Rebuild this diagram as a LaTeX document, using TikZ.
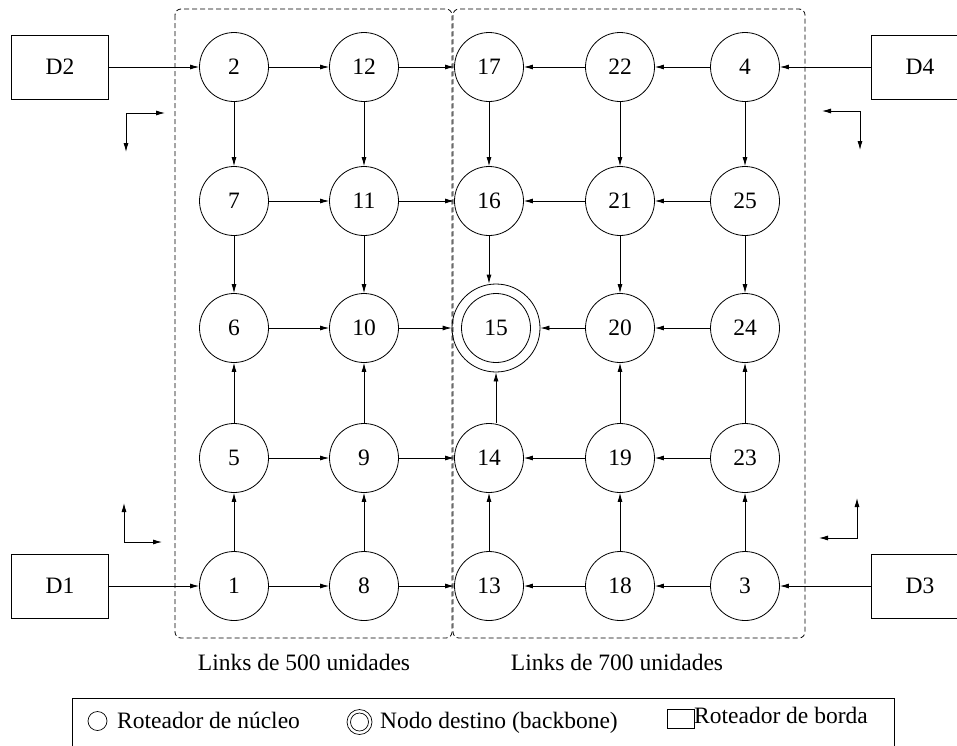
\documentclass[tikz,border=0pt]{standalone}
\usepackage{fontspec}
\setmainfont{Liberation Serif}
\usetikzlibrary{arrows.meta}
\begin{document}
\begin{tikzpicture}[x=1pt,y=-1pt,
  lbl/.style={font=\fontsize{23.5}{27}\selectfont},
  core/.style={circle,draw,line width=0.8pt,minimum size=69pt,inner sep=0pt,lbl},
  border/.style={rectangle,draw,line width=0.8pt,minimum width=97pt,minimum height=64pt,inner sep=0pt,lbl},
  link/.style={draw,line width=0.8pt,-{Latex[length=9pt,width=5pt]}},
  turn/.style={draw,line width=0.8pt,{Latex[length=9pt,width=5pt]}-{Latex[length=9pt,width=5pt]}},
  region/.style={draw,line width=0.8pt,dash pattern=on 5pt off 3pt,rounded corners=6pt},
  legtext/.style={font=\fontsize{23.5}{27}\selectfont,inner sep=0pt}]
\useasboundingbox (0,0) rectangle (957,745);

% link regions
\draw[region] (175,9) rectangle (452,638);
\draw[region] (453,9) rectangle (805,638);

% edge routers
\node[border] (D2) at (60,67) {D2};
\node[border] (D1) at (60,586) {D1};
\node[border] (D4) at (920,67) {D4};
\node[border] (D3) at (920,586) {D3};

% core routers, row by row
\node[core] (n2)  at (234,67)  {2};
\node[core] (n12) at (364,67)  {12};
\node[core] (n17) at (489,67)  {17};
\node[core] (n22) at (620,67)  {22};
\node[core] (n4)  at (745,67)  {4};

\node[core] (n7)  at (234,201) {7};
\node[core] (n11) at (364,201) {11};
\node[core] (n16) at (489,201) {16};
\node[core] (n21) at (620,201) {21};
\node[core] (n25) at (745,201) {25};

\node[core] (n6)  at (234,328) {6};
\node[core] (n10) at (364,328) {10};
\node[core,minimum size=88pt] (n15) at (496,328) {15};
\draw[line width=0.8pt] (n15.center) circle (34.5);
\node[core] (n20) at (620,328) {20};
\node[core] (n24) at (745,328) {24};

\node[core] (n5)  at (234,458) {5};
\node[core] (n9)  at (364,458) {9};
\node[core] (n14) at (489,458) {14};
\node[core] (n19) at (620,458) {19};
\node[core] (n23) at (745,458) {23};

\node[core] (n1)  at (234,586) {1};
\node[core] (n8)  at (364,586) {8};
\node[core] (n13) at (489,586) {13};
\node[core] (n18) at (620,586) {18};
\node[core] (n3)  at (745,586) {3};

% horizontal links
\path[link] (D2) -- (n2);
\path[link] (n2) -- (n12);
\path[link] (n12) -- (n17);
\path[link] (n22) -- (n17);
\path[link] (n4) -- (n22);
\path[link] (D4) -- (n4);

\path[link] (n7) -- (n11);
\path[link] (n11) -- (n16);
\path[link] (n21) -- (n16);
\path[link] (n25) -- (n21);

\path[link] (n6) -- (n10);
\path[link] (n10) -- (n15);
\path[link] (n20) -- (n15);
\path[link] (n24) -- (n20);

\path[link] (n5) -- (n9);
\path[link] (n9) -- (n14);
\path[link] (n19) -- (n14);
\path[link] (n23) -- (n19);

\path[link] (D1) -- (n1);
\path[link] (n1) -- (n8);
\path[link] (n8) -- (n13);
\path[link] (n18) -- (n13);
\path[link] (n3) -- (n18);
\path[link] (D3) -- (n3);

% vertical links
\path[link] (n2) -- (n7);
\path[link] (n12) -- (n11);
\path[link] (n17) -- (n16);
\path[link] (n22) -- (n21);
\path[link] (n4) -- (n25);

\path[link] (n7) -- (n6);
\path[link] (n11) -- (n10);
\path[link] (n16) -- (n16 |- n15.north);
\path[link] (n21) -- (n20);
\path[link] (n25) -- (n24);

\path[link] (n5) -- (n6);
\path[link] (n9) -- (n10);
\path[link] (n15 |- n14.north) -- (n15.south);
\path[link] (n19) -- (n20);
\path[link] (n23) -- (n24);

\path[link] (n1) -- (n5);
\path[link] (n8) -- (n9);
\path[link] (n13) -- (n14);
\path[link] (n18) -- (n19);
\path[link] (n3) -- (n23);

% direction indicators
\coordinate (tla) at (126,152); \coordinate (tlb) at (165,113);
\path[turn] (tla) |- (tlb);
\coordinate (tra) at (822,111); \coordinate (trb) at (860,150);
\path[turn] (tra) -| (trb);
\coordinate (bla) at (124,503); \coordinate (blb) at (162,542);
\path[turn] (bla) |- (blb);
\coordinate (bra) at (819,538); \coordinate (brb) at (857,498);
\path[turn] (bra) -| (brb);

% region captions
\node[lbl] (cap500) at (304,662) {Links de 500 unidades};
\node[lbl] (cap700) at (617,662) {Links de 700 unidades};

% legend
\draw[line width=0.8pt] (72,760) |- (894,698) -- (894,760);
\node[circle,draw,line width=0.7pt,minimum size=19pt,inner sep=0pt] (lgcore) at (97.5,721) {};
\node[legtext,anchor=base west] (lgcoretxt) at (117,728) {Roteador de núcleo};
\node[circle,draw,line width=0.7pt,minimum size=25pt,inner sep=0pt] (lgdest) at (359.5,722) {};
\draw[line width=0.7pt] (lgdest.center) circle (9);
\node[legtext,anchor=base west] (lgdesttxt) at (380,728) {Nodo destino (backbone)};
\node[rectangle,draw,line width=0.7pt,minimum width=27pt,minimum height=19pt,inner sep=0pt] (lgborder) at (680.5,718.5) {};
\node[legtext,anchor=base west] (lgbordertxt) at (694,723) {Roteador de borda};
\end{tikzpicture}
\end{document}
